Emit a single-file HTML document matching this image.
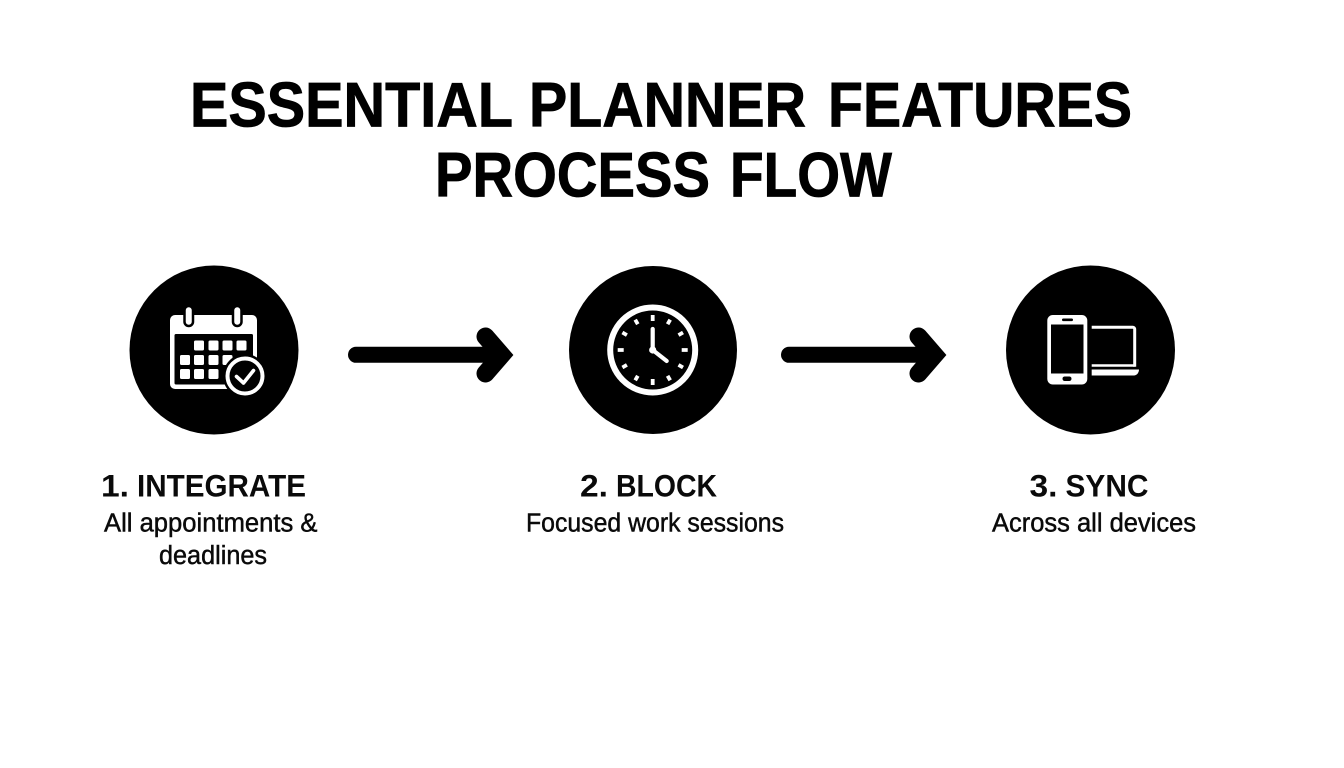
<!DOCTYPE html>
<html lang="en">
<head>
<meta charset="utf-8">
<title>Essential Planner Features Process Flow</title>
<style>
html,body{margin:0;padding:0;background:#fff;width:1344px;height:768px;overflow:hidden}
svg{display:block}
text{font-family:"Liberation Sans",Arial,sans-serif;fill:#0a0a0a}
.t{font-size:63px;font-weight:700;fill:#000;stroke:#000;stroke-width:.8px}
.h{font-size:31.5px;font-weight:700}
.s{font-size:25.5px;font-weight:400;stroke:#0a0a0a;stroke-width:.45px}
</style>
</head>
<body>
<svg width="1344" height="768" viewBox="0 0 1344 768" xmlns="http://www.w3.org/2000/svg">
<rect width="1344" height="768" fill="#fff"/>

<text class="t" x="190" y="126.5" textLength="323" lengthAdjust="spacingAndGlyphs">ESSENTIAL</text>
<text class="t" x="529" y="126.5" textLength="277" lengthAdjust="spacingAndGlyphs">PLANNER</text>
<text class="t" x="828" y="126.5" textLength="304" lengthAdjust="spacingAndGlyphs">FEATURES</text>
<text class="t" x="435" y="196.5" textLength="275" lengthAdjust="spacingAndGlyphs">PROCESS</text>
<text class="t" x="730" y="196.5" textLength="162" lengthAdjust="spacingAndGlyphs">FLOW</text>

<!-- Circles -->
<circle cx="214" cy="350" r="84.5" fill="#000"/>
<circle cx="653" cy="350" r="84" fill="#000"/>
<circle cx="1090.5" cy="350" r="84.5" fill="#000"/>

<!-- Calendar icon -->
<g fill="#fff">
<rect x="170" y="315" width="87" height="74" rx="5"/>
<rect x="174.5" y="334" width="78.5" height="50.5" rx="1.5" fill="#000"/>
<g stroke="#000" stroke-width="2.5">
<rect x="184.5" y="306" width="8.5" height="20" rx="4.2"/>
<rect x="233" y="306" width="8.5" height="20" rx="4.2"/>
</g>
<rect x="194" y="340.5" width="10" height="10" rx="1.5"/>
<rect x="208.5" y="340.5" width="10" height="10" rx="1.5"/>
<rect x="222.5" y="340.5" width="10" height="10" rx="1.5"/>
<rect x="236.5" y="340.5" width="10" height="10" rx="1.5"/>
<rect x="180" y="355" width="10" height="10" rx="1.5"/>
<rect x="194" y="355" width="10" height="10" rx="1.5"/>
<rect x="208.5" y="355" width="10" height="10" rx="1.5"/>
<rect x="222.5" y="355" width="10" height="10" rx="1.5"/>
<rect x="180" y="369" width="10" height="10" rx="1.5"/>
<rect x="194" y="369" width="10" height="10" rx="1.5"/>
<rect x="208.5" y="369" width="10" height="10" rx="1.5"/>
</g>
<circle cx="245" cy="376" r="22" fill="#000"/>
<circle cx="245" cy="376" r="17.5" fill="none" stroke="#fff" stroke-width="4"/>
<path d="M236.5 376.5l7 6.5 10-12.5" fill="none" stroke="#fff" stroke-width="3.6" stroke-linecap="round" stroke-linejoin="round"/>

<!-- Clock icon -->
<circle cx="652.7" cy="350" r="42.5" fill="none" stroke="#fff" stroke-width="6"/>
<g stroke="#fff" stroke-width="3.8">
<path d="M652.7 315v6M652.7 379v6M617.7 350h6M681.7 350h6"/>
<path d="M635.2 319.7l2.6 4.5M667.6 375.8l2.6 4.5M670.2 319.7l-2.6 4.5M637.8 375.8l-2.6 4.5"/>
<path d="M622.4 332.5l4.5 2.6M678.5 364.9l4.5 2.6M683 332.5l-4.5 2.6M626.9 364.9l-4.5 2.6"/>
</g>
<path d="M652.7 329v21l14 11" fill="none" stroke="#fff" stroke-width="4.2" stroke-linecap="round" stroke-linejoin="round"/>
<circle cx="652.7" cy="350" r="3.6" fill="#fff"/>

<!-- Devices icon -->
<rect x="1047.3" y="315" width="40" height="69.5" rx="5.5" fill="#fff"/>
<rect x="1051" y="324.5" width="32.5" height="49" fill="#000"/>
<rect x="1062" y="318.5" width="11" height="2.6" rx="1.3" fill="#000"/>
<rect x="1062.5" y="376.5" width="9" height="4.5" rx="2.2" fill="#000"/>
<path d="M1091.7 327.2h41a2 2 0 0 1 2 2v37.5" fill="none" stroke="#fff" stroke-width="3"/>
<path d="M1091.7 365.5h43" stroke="#fff" stroke-width="2.6" fill="none"/>
<path d="M1091.7 369.5h47.3c0 3.5-2.5 6-5 6h-42.3z" fill="#fff"/>

<!-- Arrows -->
<g fill="none" stroke="#000">
<path d="M356 354.8h144" stroke-width="16" stroke-linecap="round"/>
<path d="M485.5 336.5l16 18.5-16 18.5" stroke-width="18" stroke-linecap="round" stroke-linejoin="miter"/>
<path d="M789 354.8h144" stroke-width="16" stroke-linecap="round"/>
<path d="M918.5 336.5l16 18.5-16 18.5" stroke-width="18" stroke-linecap="round" stroke-linejoin="miter"/>
</g>

<!-- Labels -->
<text class="h" x="101" y="496.5" textLength="28" lengthAdjust="spacingAndGlyphs">1.</text>
<text class="h" x="137" y="496.5" textLength="169" lengthAdjust="spacingAndGlyphs">INTEGRATE</text>
<text class="s" x="104" y="531.5" textLength="213.5" lengthAdjust="spacingAndGlyphs">All appointments &amp;</text>
<text class="s" x="159" y="564" textLength="108" lengthAdjust="spacingAndGlyphs">deadlines</text>

<text class="h" x="580" y="496.5" textLength="28" lengthAdjust="spacingAndGlyphs">2.</text>
<text class="h" x="616" y="496.5" textLength="101" lengthAdjust="spacingAndGlyphs">BLOCK</text>
<text class="s" x="526" y="531.5" textLength="258" lengthAdjust="spacingAndGlyphs">Focused work sessions</text>

<text class="h" x="1029.5" y="496.5" textLength="28" lengthAdjust="spacingAndGlyphs">3.</text>
<text class="h" x="1065.5" y="496.5" textLength="83" lengthAdjust="spacingAndGlyphs">SYNC</text>
<text class="s" x="992" y="531.5" textLength="204" lengthAdjust="spacingAndGlyphs">Across all devices</text>
</svg>
</body>
</html>
